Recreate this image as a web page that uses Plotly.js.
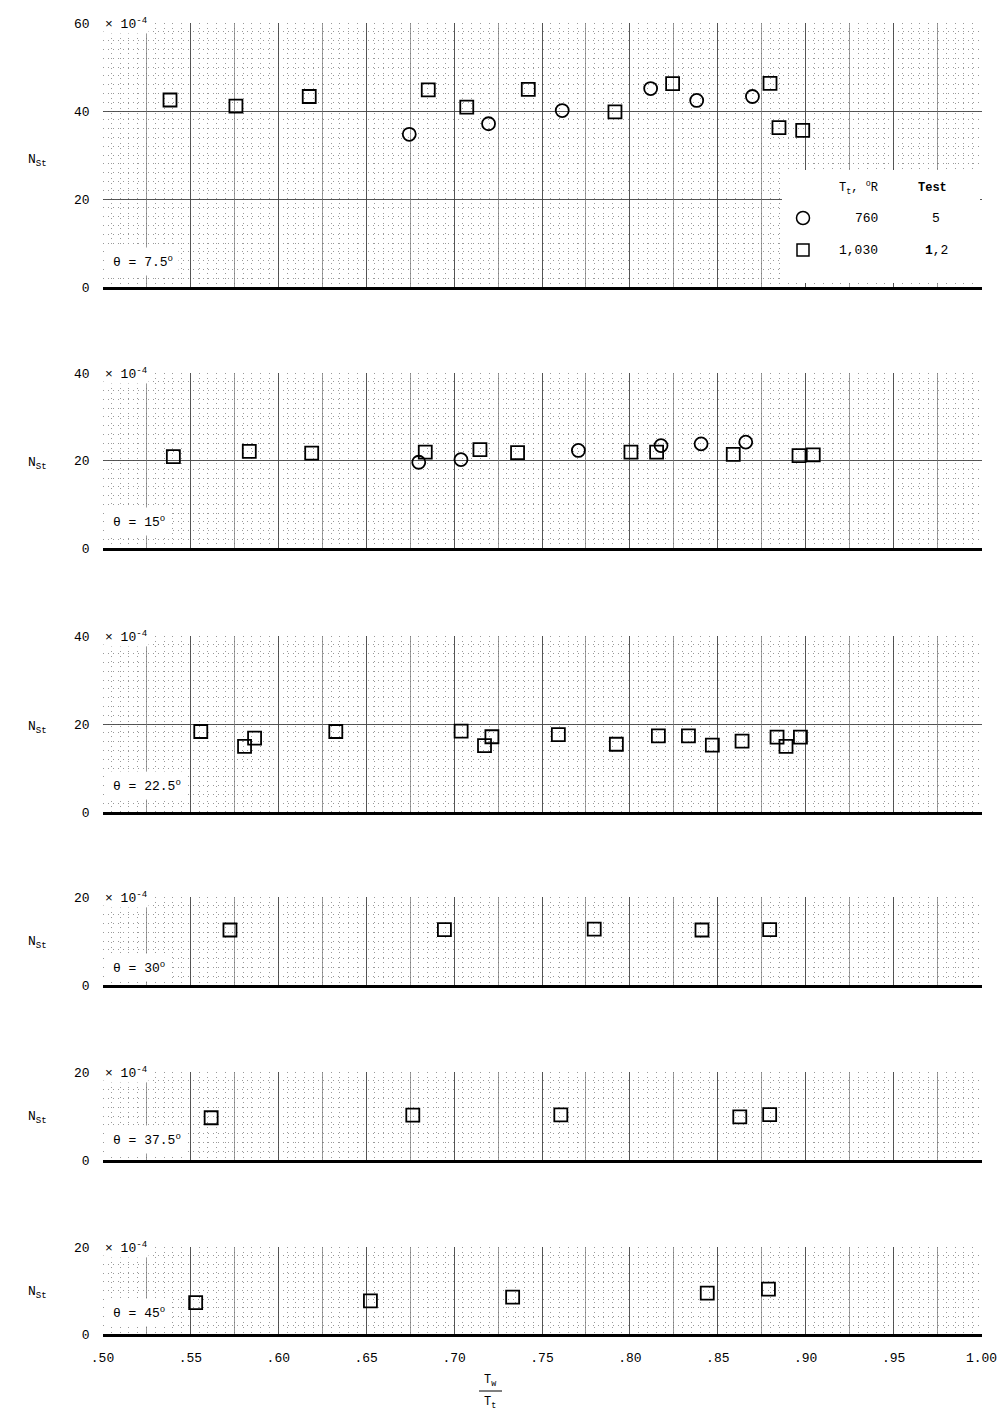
<!DOCTYPE html>
<html>
<head>
<meta charset="utf-8">
<script src="https://cdn.plot.ly/plotly-3.0.1.min.js"></script>
<style>html,body{margin:0;padding:0;background:#fff;}#chart{width:1002px;height:1416px;}</style>
</head>
<body>
<div id="chart"></div>
<script>
// ---------- data ----------
const xTickVals = [0.50,0.55,0.60,0.65,0.70,0.75,0.80,0.85,0.90,0.95,1.00];
const xTickText = ['.50','.55','.60','.65','.70','.75','.80','.85','.90','.95','1.00'];
const xHalfVals = [0.525,0.575,0.625,0.675,0.725,0.775,0.825,0.875,0.925,0.975];

const thetaLabels = ['7.5','15','22.5','30','37.5','45'];
const yMax = [60, 40, 40, 20, 20, 20];

// theta = 7.5 deg
const p1_circ_x = [0.6745,0.7196,0.7615,0.8118,0.8380,0.8697];
const p1_circ_y = [34.7,37.1,40.1,45.1,42.4,43.3];
const p1_sq_x = [0.5384,0.5759,0.6176,0.6853,0.7072,0.7422,0.7915,0.8243,0.8797,0.8848,0.8983];
const p1_sq_y = [42.5,41.1,43.3,44.8,40.9,44.9,39.8,46.2,46.3,36.2,35.6];
// theta = 15 deg
const p2_circ_x = [0.6799,0.7039,0.7707,0.8177,0.8405,0.8659];
const p2_circ_y = [19.6,20.2,22.3,23.4,23.8,24.2];
const p2_sq_x = [0.5403,0.5835,0.6190,0.6836,0.7147,0.7361,0.8006,0.8152,0.8588,0.8962,0.9043];
const p2_sq_y = [20.9,22.1,21.7,21.9,22.5,21.8,21.9,21.9,21.4,21.1,21.3];
// theta = 22.5 deg
const p3_sq_x = [0.5559,0.5808,0.5865,0.6327,0.7040,0.7173,0.7215,0.7593,0.7923,0.8162,0.8333,0.8469,0.8638,0.8837,0.8888,0.8970];
const p3_sq_y = [18.3,14.9,16.8,18.3,18.4,15.1,17.1,17.6,15.4,17.3,17.3,15.2,16.1,17.0,14.9,17.0];
// theta = 30 deg
const p4_sq_x = [0.5725,0.6945,0.7797,0.8410,0.8795];
const p4_sq_y = [12.5,12.6,12.7,12.5,12.6];
// theta = 37.5 deg
const p5_sq_x = [0.5618,0.6765,0.7607,0.8625,0.8795];
const p5_sq_y = [9.6,10.2,10.25,9.8,10.3];
// theta = 45 deg
const p6_sq_x = [0.5530,0.6524,0.7333,0.8440,0.8788];
const p6_sq_y = [7.2,7.6,8.5,9.4,10.3];

// legend table
const legendHeader = ['T<sub>t</sub>, <sup>o</sup>R', '<b>Test</b>'];
const legendTemps = ['760', '1,030'];
const legendTests = ['5', '<b>1</b>,2'];

// ---------- layout helpers ----------
const W = 1002, H = 1416;
const FONT = 'Liberation Mono, DejaVu Sans Mono, Courier New, monospace';
const panelPx = [[23,287],[373,548],[636,812],[897,985],[1072,1160],[1247,1334]]; // top,bottom pixel
const xDom = [102.5/W, 981.5/W];

const circMarker = {symbol:'circle-open', size:13, color:'#000', line:{width:1.8, color:'#000'}};
const sqMarker = {symbol:'square-open', size:13, color:'#000', line:{width:1.8, color:'#000'}};

function tr(x, y, i, marker){
  return {type:'scatter', mode:'markers', x:x, y:y, xaxis: i===1?'x':'x'+i, yaxis: i===1?'y':'y'+i,
          marker:marker, showlegend:false, hoverinfo:'skip'};
}
const data = [];
// empty carrier traces so the half-interval grid overlay subplots exist (no marks drawn)
for(let i=1;i<=6;i++){
  data.push({type:'scatter', mode:'markers', x:[], y:[], xaxis:'x'+(i+6), yaxis: i===1?'y':'y'+i,
             showlegend:false, hoverinfo:'skip'});
}
data.push(
  tr(p1_circ_x,p1_circ_y,1,circMarker), tr(p1_sq_x,p1_sq_y,1,sqMarker),
  tr(p2_circ_x,p2_circ_y,2,circMarker), tr(p2_sq_x,p2_sq_y,2,sqMarker),
  tr(p3_sq_x,p3_sq_y,3,sqMarker),
  tr(p4_sq_x,p4_sq_y,4,sqMarker),
  tr(p5_sq_x,p5_sq_y,5,sqMarker),
  tr(p6_sq_x,p6_sq_y,6,sqMarker)
);

const layout = {
  width:W, height:H, margin:{l:0,r:0,t:0,b:0}, showlegend:false,
  paper_bgcolor:'#fff', plot_bgcolor:'#fff',
  font:{family:FONT, size:13, color:'#000'},
  annotations:[], shapes:[]
};

for(let i=1;i<=6;i++){
  const [top,bot] = panelPx[i-1];
  const xa = i===1?'xaxis':'xaxis'+i, ya = i===1?'yaxis':'yaxis'+i;
  const yref = i===1?'y':'y'+i, xref = i===1?'x':'x'+i;
  const ytv = []; for(let v=0; v<=yMax[i-1]; v+=20) ytv.push(v);
  layout[xa] = {
    domain:xDom, range:[0.5,1.0], anchor:yref, side:'bottom',
    showline:true, linecolor:'#000', linewidth:2.5,
    tickmode:'array', tickvals:xTickVals, ticktext:xTickText,
    showticklabels: i===6, ticks:'', ticklabelstandoff:10,
    tickfont:{family:FONT, size:13, color:'#000'},
    showgrid:true, gridcolor:'#444', gridwidth:0.9, zeroline:false,
    minor:{dtick:0.005, tick0:0.5, showgrid:true, gridcolor:'#9a9a9a', gridwidth:1, griddash:'1px,4px', ticks:''},
    fixedrange:true
  };
  if(i!==6) layout[xa].matches = 'x6';
  // overlay axis carrying the lighter half-interval grid lines (.525, .575, ...)
  layout['xaxis'+(i+6)] = {
    domain:xDom, range:[0.5,1.0], anchor:yref, overlaying:xref, side:'bottom',
    tickmode:'array', tickvals:xHalfVals, showticklabels:false, ticks:'',
    showgrid:true, gridcolor:'#707070', gridwidth:0.7, zeroline:false, showline:false,
    fixedrange:true
  };
  layout[ya] = {
    domain:[1-bot/H, 1-top/H], range:[0,yMax[i-1]], anchor:xref,
    tickmode:'array', tickvals:ytv, ticks:'', ticklabelstandoff:12,
    tickfont:{family:FONT, size:13, color:'#000'},
    showline:false, zeroline:false,
    showgrid:true, gridcolor:'#444', gridwidth:0.9,
    minor:{dtick:2, tick0:0, showgrid:true, gridcolor:'#9a9a9a', gridwidth:1, griddash:'1px,4px', ticks:''},
    fixedrange:true
  };
  // × 10^-4 label next to the top tick
  layout.annotations.push({xref:'paper', yref:yref+' domain', x:103/W, y:1, xanchor:'left', yanchor:'middle',
    text:'× 10<sup>-4</sup>', showarrow:false, bgcolor:'#fff', borderpad:1, font:{family:FONT,size:13}});
  // N_St axis label
  layout.annotations.push({xref:'paper', yref:yref+' domain', x:37/W, y:0.48, xanchor:'center', yanchor:'middle',
    text:'N<sub>St</sub>', showarrow:false, font:{family:FONT,size:13}});
  // theta box
  const thY = [0.095,0.15,0.15,0.2,0.23,0.25][i-1];
  layout.annotations.push({xref:'paper', yref:yref+' domain', x:107/W, y:thY, xanchor:'left', yanchor:'middle',
    text:'θ = '+thetaLabels[i-1]+'<sup>o</sup>', showarrow:false, bgcolor:'#fff', borderpad:5, font:{family:FONT,size:13}});
}

// x-axis title as a fraction  Tw / Tt
layout.annotations.push({xref:'paper', yref:'paper', x:490/W, y:1-1381/H, xanchor:'center', yanchor:'middle',
  text:'T<sub>w</sub>', showarrow:false, font:{family:FONT,size:12}});
layout.annotations.push({xref:'paper', yref:'paper', x:490/W, y:1-1403/H, xanchor:'center', yanchor:'middle',
  text:'T<sub>t</sub>', showarrow:false, font:{family:FONT,size:12}});
layout.shapes.push({type:'line', xref:'paper', yref:'paper', x0:479/W, x1:502/W, y0:1-1391/H, y1:1-1391/H,
  line:{color:'#000', width:1}});

// legend block inside panel 1: white panel, key symbols, then its texts
layout.shapes.push({type:'rect', xref:'paper', yref:'paper', x0:782/W, x1:980/W, y0:1-283/H, y1:1-170/H,
  fillcolor:'#fff', line:{width:0}, layer:'above'});
layout.shapes.push({type:'circle', xref:'paper', yref:'paper', x0:796.5/W, x1:809.5/W, y0:1-224.5/H, y1:1-211.5/H,
  line:{color:'#000', width:1.5}, layer:'above'});
layout.shapes.push({type:'rect', xref:'paper', yref:'paper', x0:797/W, x1:809/W, y0:1-256/H, y1:1-244/H,
  line:{color:'#000', width:1.5}, layer:'above'});
const rowY = [1-188/H, 1-218/H, 1-250/H];
layout.annotations.push({xref:'paper', yref:'paper', x:858/W, y:rowY[0], xanchor:'center', yanchor:'middle',
  text:legendHeader[0], showarrow:false, font:{family:FONT,size:12}});
layout.annotations.push({xref:'paper', yref:'paper', x:932/W, y:rowY[0], xanchor:'center', yanchor:'middle',
  text:legendHeader[1], showarrow:false, font:{family:FONT,size:12}});
for(let r=0;r<2;r++){
  layout.annotations.push({xref:'paper', yref:'paper', x:(r===0?866:858)/W, y:rowY[r+1], xanchor:'center', yanchor:'middle',
    text:legendTemps[r], showarrow:false, font:{family:FONT,size:13}});
  layout.annotations.push({xref:'paper', yref:'paper', x:936/W, y:rowY[r+1], xanchor:'center', yanchor:'middle',
    text:legendTests[r], showarrow:false, font:{family:FONT,size:13}});
}

Plotly.newPlot('chart', data, layout, {staticPlot:true, displayModeBar:false});
</script>
</body>
</html>
